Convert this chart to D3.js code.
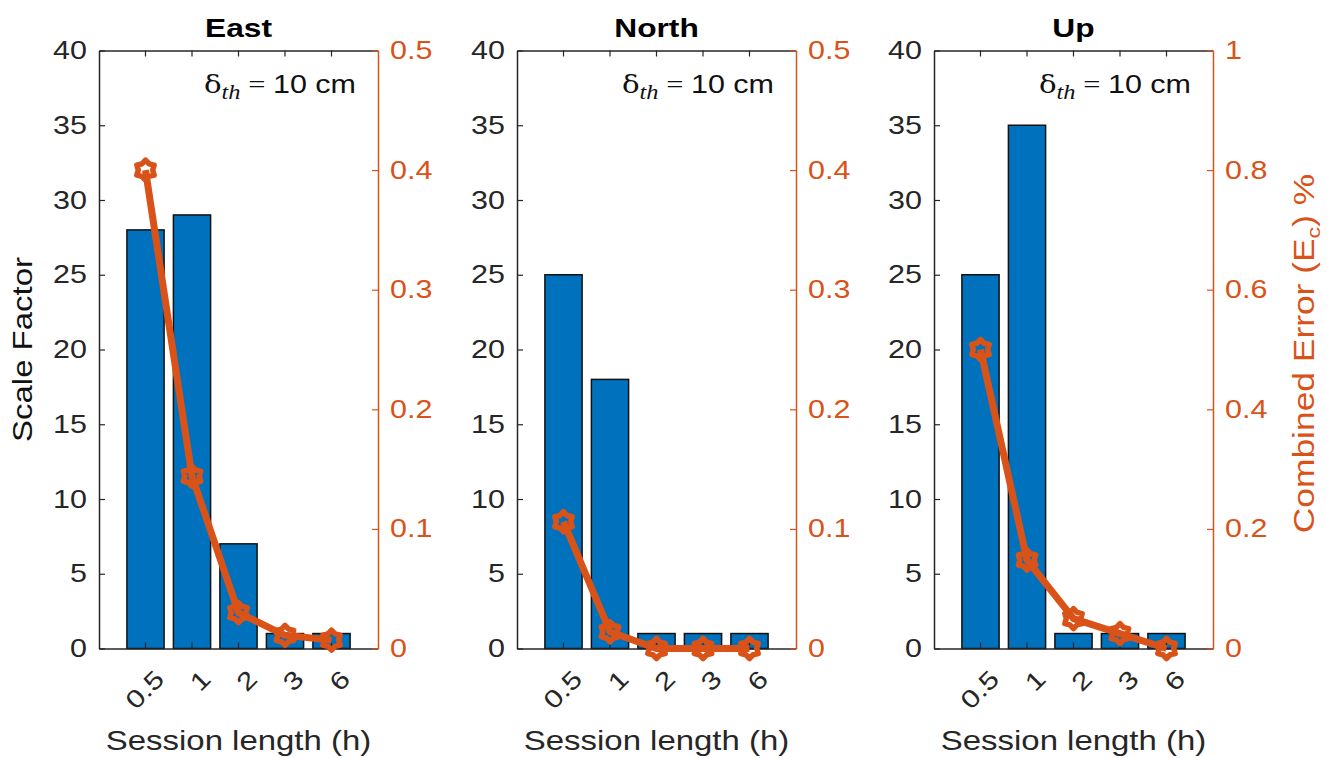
<!DOCTYPE html>
<html>
<head>
<meta charset="utf-8">
<script src="https://cdn.jsdelivr.net/npm/d3@7"></script>
<style>
  body { margin: 0; background: #fff; }
  text { font-family: "Liberation Sans", Arial, Helvetica, sans-serif; }
</style>
</head>
<body>
<svg id="chart" width="1336" height="758"></svg>
<script>
// data
var sessions = ["0.5", "1", "2", "3", "6"];
var scaleEast = [28, 29, 7, 1, 1];
var scaleNorth = [25, 18, 1, 1, 1];
var scaleUp = [25, 35, 1, 1, 1];
var errEast = [0.40, 0.144, 0.03, 0.011, 0.007];
var errNorth = [0.106, 0.014, 0, 0, 0];
var errUp = [0.50, 0.148, 0.05, 0.025, 0];
var leftTicks = [0, 5, 10, 15, 20, 25, 30, 35, 40];
var rightTicksHalf = [0, 0.1, 0.2, 0.3, 0.4, 0.5];
var rightTicksOne = [0, 0.2, 0.4, 0.6, 0.8, 1];
var titles = ["East", "North", "Up"];

var blue = "#0072BD", orange = "#D95319", ink = "#262626";
var SX = 1.22; // the source text is a little wider than Liberation Sans

var panels = [
  { title: titles[0], left: 99, bars: scaleEast, err: errEast, rmax: 0.5, rticks: rightTicksHalf },
  { title: titles[1], left: 517, bars: scaleNorth, err: errNorth, rmax: 0.5, rticks: rightTicksHalf },
  { title: titles[2], left: 934, bars: scaleUp, err: errUp, rmax: 1, rticks: rightTicksOne }
];

var marginTop = 50.5, width = 279, height = 598;
var svg = d3.select("#chart");

// hexagram marker like matlab's 'h' (drawn thick, so it looks blobby)
var hexagram = {
  draw: function (ctx, size) {
    var R = Math.sqrt(size) / 2, r = R * 0.72;
    for (var i = 0; i < 12; i++) {
      var a = -Math.PI / 2 + i * Math.PI / 6;
      var rr = i % 2 ? r : R;
      if (i === 0) ctx.moveTo(rr * Math.cos(a), rr * Math.sin(a));
      else ctx.lineTo(rr * Math.cos(a), rr * Math.sin(a));
    }
    ctx.closePath();
  }
};

panels.forEach(function (p) {
  var g = svg.append("g").attr("transform", "translate(" + p.left + "," + marginTop + ")");

  var x = d3.scaleBand().domain(sessions).range([0, width]).paddingInner(0.2).paddingOuter(0.6);
  var y = d3.scaleLinear().domain([0, 40]).range([height, 0]);
  var yR = d3.scaleLinear().domain([0, p.rmax]).range([height, 0]);

  // bars
  g.append("g").selectAll("rect")
    .data(p.bars.map(function (v, i) { return { k: sessions[i], v: v }; }))
    .enter().append("rect")
    .attr("x", function (d) { return x(d.k); })
    .attr("y", function (d) { return y(d.v); })
    .attr("width", x.bandwidth())
    .attr("height", function (d) { return height - y(d.v); })
    .attr("fill", blue)
    .attr("stroke", "#111")
    .attr("stroke-width", 1.5);

  // bottom axis
  var xb = g.append("g").attr("transform", "translate(0," + height + ")")
    .call(d3.axisBottom(x).tickSizeInner(-6).tickSizeOuter(0));
  xb.selectAll("text")
    .attr("x", 0).attr("y", 0).attr("dy", "0.35em")
    .attr("text-anchor", "end")
    .attr("transform", "translate(14,26) rotate(-45) scale(" + SX + ",1)")
    .style("font-size", "25px").attr("fill", ink);

  // top box line
  var xt = g.append("g").call(d3.axisTop(x).tickSizeInner(-6).tickSizeOuter(0).tickFormat(""));

  // left axis
  var yl = g.append("g").call(d3.axisLeft(y).tickValues(leftTicks).tickSizeInner(-6).tickSizeOuter(0).tickPadding(12));
  yl.selectAll("text")
    .attr("transform", "scale(" + SX + ",1)")
    .attr("x", -12 / SX)
    .style("font-size", "25px").attr("fill", ink);

  [xb, xt, yl].forEach(function (a) {
    a.select(".domain").attr("stroke", ink).attr("stroke-width", 1.5);
    a.selectAll(".tick line").attr("stroke", ink).attr("stroke-width", 1.2);
  });

  // right axis
  var yr = g.append("g").attr("transform", "translate(" + width + ",0)")
    .call(d3.axisRight(yR).tickValues(p.rticks).tickSizeInner(-6).tickSizeOuter(0).tickPadding(12)
      .tickFormat(d3.format("~g")));
  yr.select(".domain").attr("stroke", orange).attr("stroke-width", 1.5);
  yr.selectAll(".tick line").attr("stroke", orange).attr("stroke-width", 1.2);
  yr.selectAll("text")
    .attr("transform", "scale(" + SX + ",1)")
    .attr("x", 12 / SX)
    .style("font-size", "25px").attr("fill", orange);

  // error line and markers
  var pts = p.err.map(function (v, i) { return { k: sessions[i], v: v }; });
  var cx = function (d) { return x(d.k) + x.bandwidth() / 2; };
  g.append("path").datum(pts)
    .attr("d", d3.line().x(cx).y(function (d) { return yR(d.v); }))
    .attr("fill", "none").attr("stroke", orange)
    .attr("stroke-width", 7).attr("stroke-linejoin", "round");
  g.append("g").selectAll("path")
    .data(pts).enter().append("path")
    .attr("d", d3.symbol().type(hexagram).size(400))
    .attr("transform", function (d) { return "translate(" + cx(d) + "," + yR(d.v) + ")"; })
    .attr("fill", "none").attr("stroke", orange)
    .attr("stroke-width", 5.5).attr("stroke-linejoin", "round");

  // title
  g.append("text")
    .attr("transform", "translate(" + width / 2 + ",-14) scale(" + SX + ",1)")
    .attr("text-anchor", "middle")
    .style("font-size", "26px").style("font-weight", "bold")
    .text(p.title);

  // threshold note
  var note = g.append("text")
    .attr("transform", "translate(" + (width - 22) + ",42) scale(" + SX + ",1)")
    .attr("text-anchor", "end")
    .style("font-size", "25px").attr("fill", "#111");
  note.append("tspan").style("font-family", "'DejaVu Serif', 'Liberation Serif', serif").style("font-size", "24px").text("δ");
  note.append("tspan").attr("dy", 6).style("font-family", "'Liberation Serif', serif").style("font-style", "italic").style("font-size", "20px").text("th");
  note.append("tspan").attr("dy", -6).style("font-family", "'Liberation Serif', serif").text(" = ");
  note.append("tspan").text("10 cm");

  // x label
  g.append("text")
    .attr("transform", "translate(" + width / 2 + "," + (height + 101) + ") scale(" + SX + ",1)")
    .attr("text-anchor", "middle")
    .style("font-size", "27px").attr("fill", ink)
    .text("Session length (h)");
});

// y labels
svg.append("text")
  .attr("transform", "translate(32," + (marginTop + height / 2) + ") rotate(-90) scale(" + SX + ",1)")
  .attr("text-anchor", "middle")
  .style("font-size", "27px").attr("fill", "#111")
  .text("Scale Factor");

var rl = svg.append("text")
  .attr("transform", "translate(1314," + (marginTop + height / 2 + 4) + ") rotate(-90) scale(" + SX + ",1)")
  .attr("text-anchor", "middle")
  .style("font-size", "29px").attr("fill", orange);
rl.append("tspan").text("Combined Error (E");
rl.append("tspan").attr("dy", 6).style("font-size", "19px").text("c");
rl.append("tspan").attr("dy", -6).text(") %");
</script>
</body>
</html>
